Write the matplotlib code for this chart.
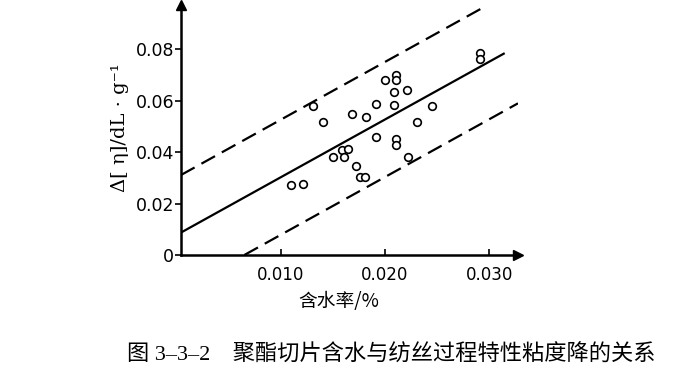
import numpy as np
import matplotlib.pyplot as plt

# 数据
water = [0.0131, 0.0141, 0.0150, 0.0110, 0.0122, 0.0159, 0.0161, 0.0165, 0.0169,
         0.0172, 0.0176, 0.0181, 0.0182, 0.0192, 0.0192, 0.0200, 0.0209, 0.0209,
         0.0211, 0.0211, 0.0211, 0.0211, 0.0221, 0.0222, 0.0231, 0.0245, 0.0291, 0.0291]
drop = [0.0580, 0.0516, 0.0383, 0.0271, 0.0276, 0.0410, 0.0383, 0.0412, 0.0550,
        0.0345, 0.0302, 0.0305, 0.0538, 0.0586, 0.0460, 0.0681, 0.0633, 0.0584,
        0.0702, 0.0680, 0.0450, 0.0428, 0.0641, 0.0383, 0.0519, 0.0581, 0.0785, 0.0761]

# 回归线和上下限
slope = 2.25
intercept = 0.0077
band = 0.0224
fit_x_end = 0.0314
upper_x_end = 0.0295

x_ticks = [0.010, 0.020, 0.030]
x_tick_labels = ["0.010", "0.020", "0.030"]
y_ticks = [0, 0.02, 0.04, 0.06, 0.08]
y_tick_labels = ["0", "0.02", "0.04", "0.06", "0.08"]

xmin, xmax = 0.00046, 0.03277
ymin, ymax = 0, 0.0973

fig = plt.figure(figsize=(6.77, 3.88), dpi=100)
ax = fig.add_axes([181 / 677, 1 - 255 / 388, 337 / 677, 250 / 388])

lw = 1.6
xs = np.array([xmin, fit_x_end])
ax.plot(xs, intercept + slope * xs, color="black", lw=lw)
xs = np.array([xmin, upper_x_end])
ax.plot(xs, intercept + band + slope * xs, color="black", lw=lw, dashes=(7, 3.5))
xs = np.array([(band - intercept) / slope, xmax])
ax.plot(xs, intercept - band + slope * xs, color="black", lw=lw, dashes=(7, 3.5))

ax.plot(water, drop, "o", mfc="white", mec="black", ms=5.5, mew=1.2)

ax.set_xlim(xmin, xmax)
ax.set_ylim(ymin, ymax)
for s in ["top", "right"]:
    ax.spines[s].set_visible(False)
ax.spines["left"].set_linewidth(1.8)
ax.spines["bottom"].set_linewidth(1.8)

ax.set_xticks(x_ticks)
ax.set_xticklabels(x_tick_labels, fontsize=12)
ax.set_yticks(y_ticks)
ax.set_yticklabels(y_tick_labels, fontsize=12.5)
ax.tick_params(axis="x", direction="in", length=4, width=1.2, pad=8)
ax.tick_params(axis="y", direction="out", length=4, width=1.2, pad=1)

# 箭头
ax.plot(1, 0, ">", color="black", ms=7, transform=ax.transAxes, clip_on=False)
ax.plot(0, 1, "^", color="black", ms=7, transform=ax.transAxes, clip_on=False)

fig.text(120 / 677, 1 - 128 / 388, "Δ[ η]/dL · g⁻¹", rotation=90, ha="center", va="center",
         fontsize=14, family=["DejaVu Serif"])
fig.text(339 / 677, 1 - 301 / 388, "含水率/%", ha="center", va="center",
         fontsize=13.5, family=["Noto Sans CJK SC", "DejaVu Sans"])
fig.text(127 / 677, 1 - 355 / 388, "图 3–3–2    聚酯切片含水与纺丝过程特性粘度降的关系",
         ha="left", va="center", fontsize=16,
         family=["Liberation Serif", "Noto Sans CJK SC"])

fig.savefig("out.png", dpi=100)
